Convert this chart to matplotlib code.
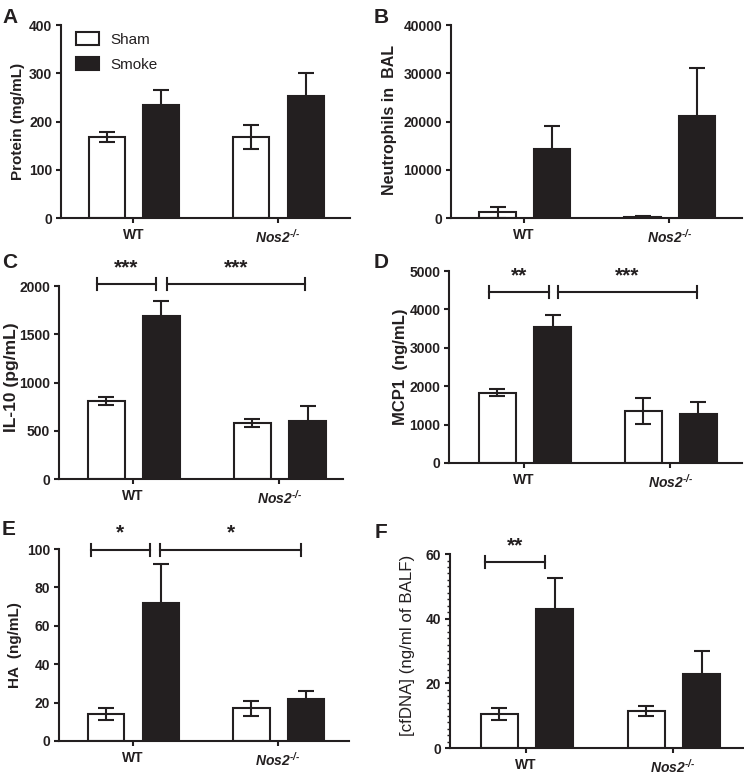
import matplotlib
matplotlib.use('Agg')
import matplotlib.pyplot as plt
from matplotlib.ticker import MultipleLocator
from matplotlib.patches import Patch

plt.rcParams['font.family'] = ['Liberation Sans', 'DejaVu Sans']
plt.rcParams['mathtext.fontset'] = 'custom'
plt.rcParams['mathtext.rm'] = 'Liberation Sans:italic:bold'
plt.rcParams['mathtext.it'] = 'Liberation Sans:italic:bold'
plt.rcParams['mathtext.default'] = 'rm'

INK = '#231f20'

# ---------------- data ----------------
groups = ['WT', 'Nos2$^{\u2010/\u2010}$']
series = ['Sham', 'Smoke']

protein_sham = [168, 168]
protein_sham_err = [10, 24]
protein_smoke = [235, 252]
protein_smoke_err = [30, 48]

neut_sham = [1200, 300]
neut_sham_err = [1100, 200]
neut_smoke = [14400, 21200]
neut_smoke_err = [4600, 9800]

il10_sham = [810, 580]
il10_sham_err = [45, 40]
il10_smoke = [1690, 600]
il10_smoke_err = [160, 160]

mcp1_sham = [1830, 1350]
mcp1_sham_err = [90, 340]
mcp1_smoke = [3550, 1280]
mcp1_smoke_err = [300, 320]

ha_sham = [14, 17]
ha_sham_err = [3, 4]
ha_smoke = [72, 22]
ha_smoke_err = [20, 4]

cfdna_sham = [10.5, 11.5]
cfdna_sham_err = [1.8, 1.5]
cfdna_smoke = [43, 22.8]
cfdna_smoke_err = [9.5, 7.2]

# significance brackets: (x_start, x_end, y, label)
sig_C = [(-0.25, 0.16, 2020, '***'), (0.23, 1.18, 2020, '***')]
sig_D = [(-0.24, 0.17, 4450, '**'), (0.23, 1.185, 4450, '***')]
sig_E = [(-0.29, 0.12, 99.5, '*'), (0.19, 1.16, 99.5, '*')]
sig_F = [(-0.28, 0.13, 57.5, '**')]

panels = [
    dict(letter='A', ylabel='Protein (mg/mL)', ymax=400, step=100,
         sham=protein_sham, sham_err=protein_sham_err,
         smoke=protein_smoke, smoke_err=protein_smoke_err, sig=[],
         rect=[0.0820, 0.7187, 0.3884, 0.2490], xlim=(-0.5, 1.5),
         ylab_xy=(-0.126, 0.5), ylab_size=11, letter_xy=(2, 8), legend=True,
         bold_ylabel=True),
    dict(letter='B', ylabel='Neutrophils in  BAL', ymax=40000, step=10000,
         sham=neut_sham, sham_err=neut_sham_err,
         smoke=neut_smoke, smoke_err=neut_smoke_err, sig=[],
         rect=[0.6062, 0.7187, 0.3911, 0.2490], xlim=(-0.503, 1.503),
         ylab_xy=(-0.187, 0.51), ylab_size=11.5, letter_xy=(374, 8), legend=False,
         bold_ylabel=True),
    dict(letter='C', ylabel='IL-10 (pg/mL)', ymax=2000, step=500,
         sham=il10_sham, sham_err=il10_sham_err,
         smoke=il10_smoke, smoke_err=il10_smoke_err, sig=sig_C,
         rect=[0.0793, 0.3819, 0.3817, 0.2490], xlim=(-0.507, 1.438),
         ylab_xy=(-0.142, 0.53), ylab_size=12.5, letter_xy=(2, 253), legend=False,
         bold_ylabel=True),
    dict(letter='D', ylabel='MCP1  (ng/mL)', ymax=5000, step=1000,
         sham=mcp1_sham, sham_err=mcp1_sham_err,
         smoke=mcp1_smoke, smoke_err=mcp1_smoke_err, sig=sig_D,
         rect=[0.6035, 0.4026, 0.3938, 0.2477], xlim=(-0.514, 1.493),
         ylab_xy=(-0.14, 0.5), ylab_size=12, letter_xy=(374, 253), legend=False,
         bold_ylabel=True),
    dict(letter='E', ylabel='HA  (ng/mL)', ymax=100, step=20,
         sham=ha_sham, sham_err=ha_sham_err,
         smoke=ha_smoke, smoke_err=ha_smoke_err, sig=sig_E,
         rect=[0.0793, 0.0439, 0.3898, 0.2477], xlim=(-0.508, 1.49),
         ylab_xy=(-0.128, 0.5), ylab_size=11, letter_xy=(2, 520), legend=False,
         bold_ylabel=True),
    dict(letter='F', ylabel='[cfDNA] (ng/ml of BALF)', ymax=60, step=20,
         sham=cfdna_sham, sham_err=cfdna_sham_err,
         smoke=cfdna_smoke, smoke_err=cfdna_smoke_err, sig=sig_F,
         rect=[0.6048, 0.0348, 0.3938, 0.2503], xlim=(-0.517, 1.476),
         ylab_xy=(-0.121, 0.53), ylab_size=12.2, letter_xy=(375, 523), legend=False,
         bold_ylabel=False, minor=2),
]

W, H = 744, 775
fig = plt.figure(figsize=(W / 100, H / 100), dpi=100)

LW = 1.5
OFF_SHAM, OFF_SMOKE, BW = -0.182, 0.195, 0.25

for p in panels:
    ax = fig.add_axes(p['rect'])
    xs = list(range(len(groups)))
    xsh = [x + OFF_SHAM for x in xs]
    xsm = [x + OFF_SMOKE for x in xs]
    ax.bar(xsh, p['sham'], width=BW, color='white', edgecolor=INK, linewidth=LW,
           zorder=2, label=series[0])
    ax.bar(xsm, p['smoke'], width=BW, color=INK, edgecolor=INK, linewidth=LW,
           zorder=2, label=series[1])
    ax.errorbar(xsh, p['sham'], yerr=p['sham_err'], fmt='none', ecolor=INK,
                elinewidth=LW, capsize=5.5, capthick=LW, zorder=3)
    ax.errorbar(xsm, p['smoke'], yerr=p['smoke_err'], fmt='none', ecolor=INK,
                elinewidth=LW, capsize=5.5, capthick=LW, zorder=3)

    ax.set_xlim(*p['xlim'])
    ax.set_ylim(0, p['ymax'])
    ax.set_yticks(range(0, p['ymax'] + 1, p['step']))
    ax.set_xticks(xs)
    ax.set_xticklabels(groups)
    for lab, txt in zip(ax.get_xticklabels(), groups):
        lab.set_fontweight('bold')
        if 'Nos2' in txt:
            lab.set_fontstyle('italic')
    for lab in ax.get_yticklabels():
        lab.set_fontweight('bold')
    if 'minor' in p:
        ax.yaxis.set_minor_locator(MultipleLocator(p['minor']))
        ax.tick_params(axis='y', which='minor', length=2.2, width=1.0, color=INK)

    for s in ['top', 'right']:
        ax.spines[s].set_visible(False)
    for s in ['left', 'bottom']:
        ax.spines[s].set_linewidth(LW)
        ax.spines[s].set_color(INK)
    ax.tick_params(axis='both', which='major', length=3.8, width=LW, color=INK,
                   labelcolor=INK, labelsize=10, pad=2.5)
    ax.tick_params(axis='x', pad=3.5)

    ax.set_ylabel(p['ylabel'], fontsize=p['ylab_size'],
                  fontweight='bold' if p['bold_ylabel'] else 'normal', color=INK)
    ax.yaxis.set_label_coords(*p['ylab_xy'])

    tick_h = 0.03 * p['ymax']
    for x1, x2, y, lab in p['sig']:
        ax.plot([x1, x2], [y, y], color=INK, lw=LW, clip_on=False, zorder=4)
        for xe in (x1, x2):
            ax.plot([xe, xe], [y - tick_h, y + tick_h], color=INK, lw=LW,
                    clip_on=False, zorder=4)
        ax.annotate(lab, xy=((x1 + x2) / 2, y), xytext=(0, 8), textcoords='offset points',
                    ha='center', va='baseline', fontsize=15, fontweight='bold',
                    color=INK, annotation_clip=False)

    if p['legend']:
        handles = [Patch(facecolor='white', edgecolor=INK, linewidth=LW),
                   Patch(facecolor=INK, edgecolor=INK, linewidth=LW)]
        ax.legend(handles, series, loc='upper left', bbox_to_anchor=(0.052, 0.962),
                  frameon=False, fontsize=11, handlelength=1.5, handleheight=0.85,
                  handletextpad=0.75, labelspacing=0.7, borderpad=0, borderaxespad=0,
                  labelcolor=INK)

    lx, ly = p['letter_xy']
    fig.text(lx / W, 1 - ly / H, p['letter'], fontsize=15, fontweight='bold',
             color=INK, ha='left', va='top')

fig.savefig('out.png', dpi=100)
